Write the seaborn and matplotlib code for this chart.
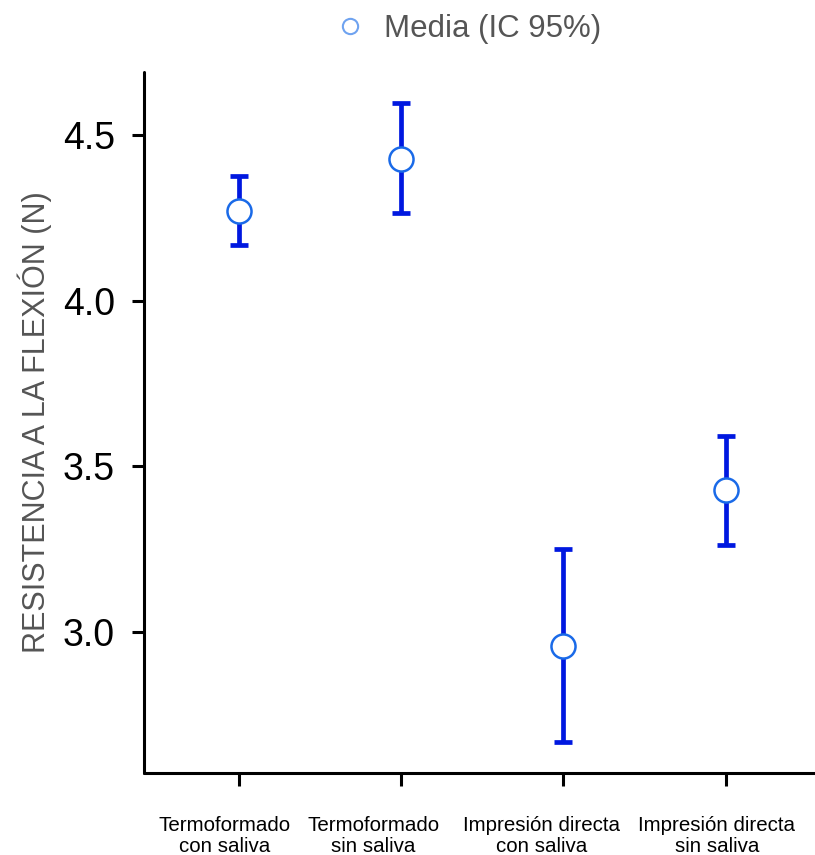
import matplotlib
matplotlib.use("Agg")
import matplotlib.pyplot as plt
import matplotlib.transforms as mtransforms
from matplotlib.lines import Line2D
import seaborn as sns
import pandas as pd

categories = ["Termoformado\ncon saliva", "Termoformado\nsin saliva",
              "Impresión directa\ncon saliva", "Impresión directa\nsin saliva"]
means = [4.271, 4.428, 2.958, 3.428]
ci_low = [4.169, 4.265, 2.669, 3.262]
ci_high = [4.377, 4.596, 3.250, 3.593]
y_ticks = [3.0, 3.5, 4.0, 4.5]
legend_label = "Media (IC 95%)"
y_label = "RESISTENCIA A LA FLEXIÓN (N)"

sns.set_theme(style="white")
plt.rcParams["font.family"] = ["Liberation Sans", "DejaVu Sans"]

df = pd.DataFrame({"grupo": categories, "media": means, "lo": ci_low, "hi": ci_high})

fig = plt.figure(figsize=(8.15, 8.55), dpi=100)
ax = fig.add_axes([0.1767, 0.0959, 0.8233, 0.8199])

err_lo = [m - l for m, l in zip(means, ci_low)]
err_hi = [h - m for m, h in zip(means, ci_high)]
ax.errorbar(df["grupo"], df["media"], yerr=[err_lo, err_hi], fmt="none",
            ecolor="#0018e0", elinewidth=3.4, capsize=6.5, capthick=3.4, zorder=2)
sns.scatterplot(data=df, x="grupo", y="media", ax=ax, s=300, color="white",
                edgecolor="#1a6ae8", linewidth=1.8, zorder=3, legend=False)

ax.set_xlim(-0.585, 3.55)
ax.set_ylim(2.575, 4.69)
ax.set_yticks(y_ticks)
ax.set_yticklabels([f"{v:.1f}" for v in y_ticks])
ax.set_xlabel("")
ax.set_ylabel(y_label, fontsize=22, color="#555555", labelpad=8)

for s in ["top", "right"]:
    ax.spines[s].set_visible(False)
for s in ["left", "bottom"]:
    ax.spines[s].set_color("black")
    ax.spines[s].set_linewidth(2.2)
    ax.spines[s].set_capstyle("round")

ax.tick_params(axis="y", direction="out", length=9, width=2.2, color="black",
               labelsize=27, labelcolor="black", pad=12, left=True)
ax.tick_params(axis="x", direction="out", length=9, width=2.2, color="black",
               labelsize=14.8, labelcolor="black", pad=22, bottom=True)
label_shift_px = [-14, -28, -22, -9]
for lab, dx in zip(ax.get_xticklabels(), label_shift_px):
    lab.set_multialignment("center")
    lab.set_linespacing(1.12)
    lab.set_transform(lab.get_transform() +
                      mtransforms.ScaledTranslation(dx / 100, 0, fig.dpi_scale_trans))
ax.grid(False)

handle = Line2D([], [], linestyle="none", marker="o", markersize=11,
                markerfacecolor="white", markeredgecolor="#6fa3f0", markeredgewidth=1.5)
fig.legend([handle], [legend_label], loc="center", bbox_to_anchor=(0.574, 0.966),
           frameon=False, fontsize=22.5, labelcolor="#555555", handletextpad=0.6,
           handlelength=1.0)

fig.savefig("out.png", dpi=100)
